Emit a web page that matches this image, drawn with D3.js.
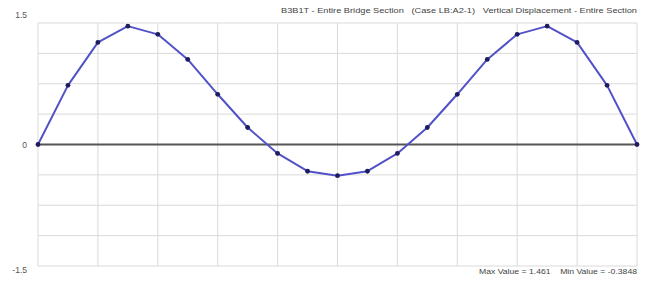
<!DOCTYPE html>
<html>
<head>
<meta charset="utf-8">
<script src="https://cdn.jsdelivr.net/npm/d3@7"></script>
<style>
  html, body { margin: 0; padding: 0; background: #fff; }
  svg { display: block; font-family: "Liberation Sans", Arial, sans-serif; }
  text { white-space: pre; }
</style>
</head>
<body>
<svg id="chart" width="647" height="284"></svg>
<script>
'use strict';

// station index along the section and the vertical displacement at each
const stations = d3.range(0, 21);
const displacement = [0, 0.73, 1.26, 1.461, 1.36, 1.05, 0.62, 0.21, -0.11, -0.33, -0.3848,
  -0.33, -0.11, 0.21, 0.62, 1.05, 1.36, 1.461, 1.26, 0.73, 0];
const yTickLabels = ['1.5', '0', '-1.5'];
const yTickValues = [1.5, 0, -1.5];
const titleText = 'B3B1T - Entire Bridge Section   (Case LB:A2-1)   Vertical Displacement - Entire Section';
const footerText = 'Max Value = 1.461    Min Value = -0.3848';

const svg = d3.select('#chart');
const plot = {left: 38, right: 637, top: 23, bottom: 266};

const x = d3.scaleLinear().domain([0, 20]).range([plot.left, plot.right]);
const y = d3.scaleLinear().domain([-1.5, 1.5]).range([plot.bottom, plot.top]);

// grid: 10 vertical divisions, 8 horizontal
const grid = svg.append('g').attr('class', 'grid');
grid.selectAll('line.v').data(d3.range(0, 21, 2)).enter().append('line')
  .attr('x1', d => x(d)).attr('x2', d => x(d))
  .attr('y1', plot.top).attr('y2', plot.bottom)
  .attr('stroke', '#dadada').attr('stroke-width', 1);
grid.selectAll('line.h').data(d3.range(-1.5, 1.5001, 0.375)).enter().append('line')
  .attr('x1', plot.left).attr('x2', plot.right)
  .attr('y1', d => y(d)).attr('y2', d => y(d))
  .attr('stroke', '#dadada').attr('stroke-width', 1);

// zero axis
svg.append('line')
  .attr('x1', plot.left).attr('x2', plot.right)
  .attr('y1', y(0)).attr('y2', y(0))
  .attr('stroke', '#555').attr('stroke-width', 2);

// y labels
svg.selectAll('text.ylab').data(yTickValues).enter().append('text')
  .attr('x', 27)
  .attr('y', (d, i) => i === 0 ? 18 : (i === 2 ? 273 : y(d) + 3))
  .attr('text-anchor', 'end')
  .attr('font-size', 8.5)
  .attr('fill', '#555')
  .text((d, i) => yTickLabels[i]);

// displacement line
const points = stations.map((s, i) => ({s, v: displacement[i]}));
const line = d3.line().x(d => x(d.s)).y(d => y(d.v));

svg.append('path')
  .datum(points)
  .attr('d', line)
  .attr('fill', 'none')
  .attr('stroke', '#5252c8')
  .attr('stroke-width', 2)
  .attr('stroke-linejoin', 'round');

svg.selectAll('circle.pt').data(points).enter().append('circle')
  .attr('cx', d => x(d.s))
  .attr('cy', d => y(d.v))
  .attr('r', 2.4)
  .attr('fill', '#1c1c5e');

// captions
svg.append('text')
  .attr('x', plot.right).attr('y', 13)
  .attr('text-anchor', 'end')
  .attr('font-size', 8)
  .attr('fill', '#444')
  .attr('textLength', 356)
  .attr('lengthAdjust', 'spacingAndGlyphs')
  .text(titleText);

svg.append('text')
  .attr('x', plot.right).attr('y', 274)
  .attr('text-anchor', 'end')
  .attr('font-size', 8)
  .attr('fill', '#444')
  .attr('textLength', 158)
  .attr('lengthAdjust', 'spacingAndGlyphs')
  .text(footerText);
</script>
</body>
</html>
